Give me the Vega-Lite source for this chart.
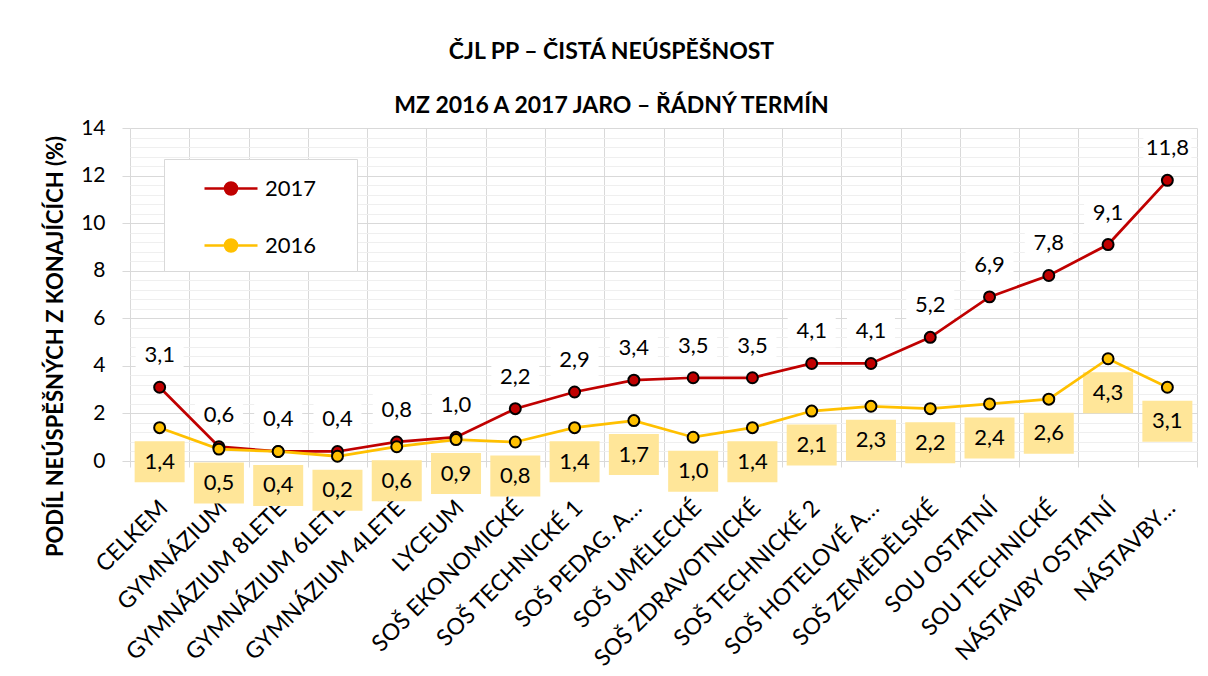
{
  "$schema": "https://vega.github.io/schema/vega-lite/v6.json",
  "width": 1067,
  "height": 333,
  "autosize": {"type": "none"},
  "padding": {"left": 130, "top": 128, "right": 11, "bottom": 215},
  "background": "white",
  "config": {
    "locale": {"number": {"decimal": ",", "thousands": " ", "grouping": [3], "currency": ["", " Kč"]}},
    "font": "Lato",
    "view": {"stroke": null}
  },
  "title": {
    "text": ["ČJL PP – ČISTÁ NEÚSPĚŠNOST", "MZ 2016 A 2017 JARO – ŘÁDNÝ TERMÍN"],
    "font": "Lato",
    "fontSize": 23,
    "fontWeight": "bold",
    "color": "black",
    "lineHeight": 54,
    "anchor": "middle",
    "frame": "group",
    "dx": -52,
    "offset": -1
  },
  "data": {
    "values": [
      {"cat": "CELKEM", "year": "2017", "value": 3.1},
      {"cat": "GYMNÁZIUM", "year": "2017", "value": 0.6},
      {"cat": "GYMNÁZIUM 8LETÉ", "year": "2017", "value": 0.4},
      {"cat": "GYMNÁZIUM 6LETÉ", "year": "2017", "value": 0.4},
      {"cat": "GYMNÁZIUM 4LETÉ", "year": "2017", "value": 0.8},
      {"cat": "LYCEUM", "year": "2017", "value": 1.0},
      {"cat": "SOŠ EKONOMICKÉ", "year": "2017", "value": 2.2},
      {"cat": "SOŠ TECHNICKÉ 1", "year": "2017", "value": 2.9},
      {"cat": "SOŠ PEDAG. A…", "year": "2017", "value": 3.4},
      {"cat": "SOŠ UMĚLECKÉ", "year": "2017", "value": 3.5},
      {"cat": "SOŠ ZDRAVOTNICKÉ", "year": "2017", "value": 3.5},
      {"cat": "SOŠ TECHNICKÉ 2", "year": "2017", "value": 4.1},
      {"cat": "SOŠ HOTELOVÉ A…", "year": "2017", "value": 4.1},
      {"cat": "SOŠ ZEMĚDĚLSKÉ", "year": "2017", "value": 5.2},
      {"cat": "SOU OSTATNÍ", "year": "2017", "value": 6.9},
      {"cat": "SOU TECHNICKÉ", "year": "2017", "value": 7.8},
      {"cat": "NÁSTAVBY OSTATNÍ", "year": "2017", "value": 9.1},
      {"cat": "NÁSTAVBY…", "year": "2017", "value": 11.8},
      {"cat": "CELKEM", "year": "2016", "value": 1.4},
      {"cat": "GYMNÁZIUM", "year": "2016", "value": 0.5},
      {"cat": "GYMNÁZIUM 8LETÉ", "year": "2016", "value": 0.4},
      {"cat": "GYMNÁZIUM 6LETÉ", "year": "2016", "value": 0.2},
      {"cat": "GYMNÁZIUM 4LETÉ", "year": "2016", "value": 0.6},
      {"cat": "LYCEUM", "year": "2016", "value": 0.9},
      {"cat": "SOŠ EKONOMICKÉ", "year": "2016", "value": 0.8},
      {"cat": "SOŠ TECHNICKÉ 1", "year": "2016", "value": 1.4},
      {"cat": "SOŠ PEDAG. A…", "year": "2016", "value": 1.7},
      {"cat": "SOŠ UMĚLECKÉ", "year": "2016", "value": 1.0},
      {"cat": "SOŠ ZDRAVOTNICKÉ", "year": "2016", "value": 1.4},
      {"cat": "SOŠ TECHNICKÉ 2", "year": "2016", "value": 2.1},
      {"cat": "SOŠ HOTELOVÉ A…", "year": "2016", "value": 2.3},
      {"cat": "SOŠ ZEMĚDĚLSKÉ", "year": "2016", "value": 2.2},
      {"cat": "SOU OSTATNÍ", "year": "2016", "value": 2.4},
      {"cat": "SOU TECHNICKÉ", "year": "2016", "value": 2.6},
      {"cat": "NÁSTAVBY OSTATNÍ", "year": "2016", "value": 4.3},
      {"cat": "NÁSTAVBY…", "year": "2016", "value": 3.1}
    ]
  },
  "resolve": {"axis": {"y": "independent"}},
  "layer": [
    {
      "mark": {"type": "point", "opacity": 0},
      "encoding": {
        "x": {
          "field": "cat", "type": "nominal", "sort": null,
          "scale": {"type": "band", "paddingInner": 0, "paddingOuter": 0},
          "axis": {
            "title": null, "labelAngle": -45, "labelAlign": "right", "labelBaseline": "middle",
            "labelFont": "Lato", "labelFontSize": 23, "labelColor": "black",
            "labelPadding": 37, "labelOffset": 4, "labelOverlap": false, "labelLimit": 0,
            "tickBand": "extent", "grid": true, "gridColor": "#D9D9D9", "gridWidth": 1,
            "ticks": true, "tickColor": "#D9D9D9", "tickSize": 6, "domain": false
          }
        },
        "y": {
          "field": "value", "type": "quantitative",
          "scale": {"domain": [0, 14], "nice": false},
          "axis": {
            "orient": "right",
            "values": [0.4, 0.8, 1.2, 1.6, 2.4, 2.8, 3.2, 3.6, 4.4, 4.8, 5.2, 5.6, 6.4, 6.8, 7.2, 7.6, 8.4, 8.8, 9.2, 9.6, 10.4, 10.8, 11.2, 11.6, 12.4, 12.8, 13.2, 13.6],
            "grid": true, "gridColor": "#EFEFEF", "gridWidth": 1,
            "labels": false, "ticks": false, "domain": false, "title": null
          }
        }
      }
    },
    {
      "encoding": {
        "x": {
          "field": "cat", "type": "nominal", "sort": null,
          "scale": {"type": "band", "paddingInner": 0, "paddingOuter": 0},
          "axis": {
            "title": null, "labelAngle": -45, "labelAlign": "right", "labelBaseline": "middle",
            "labelFont": "Lato", "labelFontSize": 23, "labelColor": "black",
            "labelPadding": 37, "labelOffset": 4, "labelOverlap": false, "labelLimit": 0,
            "tickBand": "extent", "grid": true, "gridColor": "#D9D9D9", "gridWidth": 1,
            "ticks": true, "tickColor": "#D9D9D9", "tickSize": 6, "domain": false
          }
        },
        "y": {
          "field": "value", "type": "quantitative",
          "scale": {"domain": [0, 14], "nice": false},
          "axis": {
            "orient": "left",
            "values": [0, 2, 4, 6, 8, 10, 12, 14],
            "grid": true, "gridColor": "#D9D9D9", "gridWidth": 1,
            "tickColor": "#D9D9D9", "tickSize": 8, "domain": false,
            "labelFont": "Lato", "labelFontSize": 21, "labelColor": "black", "labelPadding": 17,
            "title": "PODÍL NEÚSPĚŠNÝCH Z KONAJÍCÍCH (%)",
            "titleFont": "Lato", "titleFontSize": 22, "titleFontWeight": "bold", "titleColor": "black",
            "titleX": -75, "titleY": 218, "titleAngle": 270, "titleAlign": "center", "titleBaseline": "middle"
          }
        }
      },
      "layer": [
        {
          "transform": [{"filter": "datum.year == '2017'"}],
          "mark": {
            "type": "point",
            "shape": "M-2.4,-4.8L2.4,-4.8L2.4,-1.6L-2.4,-1.6Z",
            "size": 400, "filled": true, "fill": "white", "opacity": 1, "strokeWidth": 0
          }
        },
        {
          "transform": [{"filter": "datum.year == '2016'"}],
          "mark": {
            "type": "point",
            "shape": "M-2.5,1.35L2.5,1.35L2.5,5.45L-2.5,5.45Z",
            "size": 400, "filled": true, "fill": "#FFE699", "opacity": 1, "strokeWidth": 0
          }
        },
        {
          "mark": {"type": "line", "strokeWidth": 2.75},
          "encoding": {
            "color": {
              "field": "year", "type": "nominal",
              "scale": {"domain": ["2017", "2016"], "range": ["#C00000", "#FFC000"]},
              "legend": {
                "orient": "none", "legendX": 34, "legendY": 31,
                "title": null, "direction": "vertical",
                "fillColor": "white", "strokeColor": "#D9D9D9",
                "padding": 14,
                "symbolType": "M-1.893,0L-0.43,0M0.43,0L1.893,0M0.43,0A0.43,0.43,0,1,1,-0.43,0A0.43,0.43,0,1,1,0.43,0ZM7.6,0L7.6,0",
                "symbolSize": 784, "symbolStrokeWidth": 2.5, "symbolOffset": 37.5,
                "labelFont": "Lato", "labelFontSize": 22, "labelColor": "black",
                "labelOffset": 18.5, "rowPadding": 30,
                "encode": {
                  "symbols": {
                    "update": {
                      "fill": {"scale": "color", "field": "value"},
                      "stroke": {"scale": "color", "field": "value"}
                    }
                  }
                }
              }
            }
          }
        },
        {
          "mark": {"type": "point", "filled": true, "size": 120, "stroke": "black", "strokeWidth": 2, "opacity": 1},
          "encoding": {"color": {"field": "year", "type": "nominal", "legend": null}}
        },
        {
          "transform": [{"filter": "datum.year == '2017'"}],
          "mark": {"type": "text", "dy": -32, "font": "Lato", "fontSize": 22, "color": "black"},
          "encoding": {"text": {"field": "value", "type": "quantitative", "format": ".1f"}}
        },
        {
          "transform": [{"filter": "datum.year == '2016'"}],
          "mark": {"type": "text", "dy": 34, "font": "Lato", "fontSize": 22, "color": "black"},
          "encoding": {"text": {"field": "value", "type": "quantitative", "format": ".1f"}}
        }
      ]
    }
  ]
}
